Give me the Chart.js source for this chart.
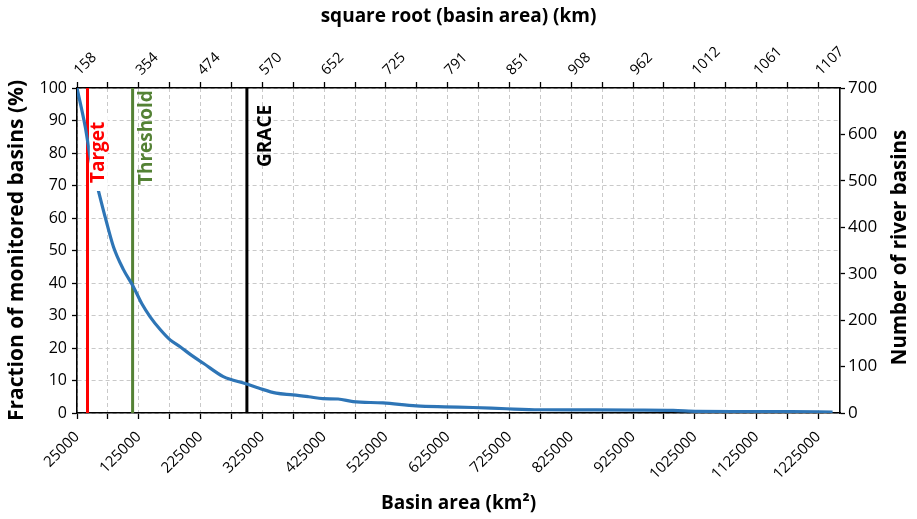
<!DOCTYPE html>
<html>
<head>
<meta charset="utf-8">
<script src="https://cdn.jsdelivr.net/npm/chart.js@4.4.1/dist/chart.umd.min.js"></script>
<style>
html,body{margin:0;padding:0;background:#fff;}
#wrap{width:917px;height:519px;position:relative;}
</style>
</head>
<body>
<div id="wrap"><canvas id="c"></canvas></div>
<script>
// ---- data ----
const basinArea = [25000, 38400, 46500, 59800, 72000, 84100, 100000, 116400, 130000, 143400, 160000, 175700, 191900, 210000, 229500, 261800, 298500, 320000, 347500, 374600, 400000, 423000, 447600, 471900, 520300, 574200, 620000, 666000, 720000, 773500, 850000, 925000, 990000, 1030000, 1100000, 1180000, 1248000];
const fractionMonitored = [100, 88, 78.7, 68.3, 59.3, 51.1, 44.2, 38.8, 33.6, 29.6, 25.6, 22.5, 20.4, 17.8, 15.3, 11.2, 9.0, 7.6, 6.1, 5.6, 5.0, 4.4, 4.3, 3.5, 3.1, 2.2, 1.9, 1.7, 1.3, 1.0, 0.95, 0.9, 0.8, 0.5, 0.45, 0.4, 0.3];

const markerNames = ['Target', 'Threshold', 'GRACE'];
const markerAreas = [42000, 115000, 300000];

const bottomTickLabels = ['25000','125000','225000','325000','425000','525000','625000','725000','825000','925000','1025000','1125000','1225000'];
const topTickLabels = ['158','354','474','570','652','725','791','851','908','962','1012','1061','1107'];
const xTickValues = [25000,75000,125000,175000,225000,275000,325000,375000,425000,475000,525000,575000,625000,675000,725000,775000,825000,875000,925000,975000,1025000,1075000,1125000,1175000,1225000];

const leftTitle = 'Fraction of monitored basins (%)';
const rightTitle = 'Number of river basins';
const bottomTitle = 'Basin area (km\u00B2)';
const topTitle = 'square root (basin area) (km)';

// ---- styles ----
const FONT = "'Open Sans', 'DejaVu Sans', sans-serif";
Chart.defaults.font.family = FONT;
Chart.defaults.color = '#000';

const markerColors = ['#ff0000', '#548235', '#000000'];
const markerLabelStyle = [
  {dx: 11.3, bottomOffset: 95, bg: true},
  {dx: 14, bottomOffset: 97, bg: false},
  {dx: 18.5, bottomOffset: 79, bg: false}
];

const gridColor = '#c9c9c9';

const datasets = [{
  label: 'fraction',
  data: basinArea.map((a, i) => ({x: a, y: fractionMonitored[i]})),
  borderColor: '#2e75b6',
  borderWidth: 3.2,
  pointRadius: 0,
  cubicInterpolationMode: 'monotone',
  fill: false,
  xAxisID: 'x',
  yAxisID: 'y',
  order: 1
}];
markerAreas.forEach((a, i) => {
  datasets.push({
    label: markerNames[i],
    data: [{x: a, y: 0}, {x: a, y: 100}],
    borderColor: markerColors[i],
    borderWidth: 3,
    pointRadius: 0,
    fill: false,
    xAxisID: 'x',
    yAxisID: 'y',
    order: 2
  });
});

const labelPlugin = {
  id: 'markerLabels',
  afterDatasetsDraw(chart) {
    const ctx = chart.ctx;
    const xs = chart.scales.x;
    const top = chart.chartArea.top;
    markerNames.forEach((name, i) => {
      const st = markerLabelStyle[i];
      const px = xs.getPixelForValue(markerAreas[i]) + st.dx;
      const py = top + st.bottomOffset;
      ctx.save();
      ctx.translate(px, py);
      ctx.rotate(-Math.PI / 2);
      ctx.font = "bold 19px " + FONT;
      const w = ctx.measureText(name).width;
      if (st.bg) {
        ctx.fillStyle = '#ffffff';
        ctx.fillRect(-8, -9, w + 16, 18);
      }
      ctx.fillStyle = markerColors[i];
      ctx.textBaseline = 'middle';
      ctx.textAlign = 'left';
      ctx.fillText(name, 0, 0);
      ctx.restore();
    });
    // right axis title, reading bottom-to-top
    const ca = chart.chartArea;
    ctx.save();
    ctx.translate(900, (ca.top + ca.bottom) / 2 - 3);
    ctx.rotate(-Math.PI / 2);
    ctx.font = "bold 20.5px " + FONT;
    ctx.fillStyle = '#000';
    ctx.textAlign = 'center';
    ctx.textBaseline = 'middle';
    ctx.fillText(rightTitle, 0, 0);
    ctx.restore();
  }
};

const xTicksBuild = (scale) => { scale.ticks = xTickValues.map(v => ({value: v})); };

new Chart(document.getElementById('c'), {
  type: 'line',
  data: {datasets},
  plugins: [labelPlugin],
  options: {
    responsive: true,
    maintainAspectRatio: false,
    animation: false,
    layout: {padding: 0},
    plugins: {legend: {display: false}, tooltip: {enabled: false}},
    scales: {
      x: {
        type: 'linear', position: 'bottom', min: 25000, max: 1260000,
        afterBuildTicks: xTicksBuild,
        afterFit: (s) => { s.height = 106; },
        ticks: {
          autoSkip: false, minRotation: 45, maxRotation: 45, padding: 9,
          font: {size: 15},
          callback: (v, i) => (i % 2 === 0 ? bottomTickLabels[i / 2] : '')
        },
        grid: {color: gridColor, lineWidth: 1, tickColor: '#000', tickLength: 6, tickWidth: 1.3, tickBorderDash: []},
        border: {display: true, color: '#000', width: 1.6, dash: [4, 3]},
        title: {display: true, text: bottomTitle, font: {size: 19, weight: 'bold'}, padding: {top: 0, bottom: 4}}
      },
      x2: {
        type: 'linear', position: 'top', min: 25000, max: 1260000,
        afterBuildTicks: xTicksBuild,
        afterFit: (s) => { s.height = 88; },
        ticks: {
          autoSkip: false, minRotation: 45, maxRotation: 45, padding: 3, labelOffset: 12,
          font: {size: 14.5},
          callback: (v, i) => (i % 2 === 0 ? topTickLabels[i / 2] : '')
        },
        grid: {drawOnChartArea: false, tickColor: '#000', tickLength: 6, tickWidth: 1.3},
        border: {display: true, color: '#000', width: 1.6},
        title: {display: true, text: topTitle, font: {size: 19, weight: 'bold'}, padding: {top: 5, bottom: 0}}
      },
      y: {
        type: 'linear', position: 'left', min: 0, max: 100,
        afterFit: (s) => { s.width = 77; },
        ticks: {stepSize: 10, font: {size: 16}, padding: 5},
        grid: {color: gridColor, lineWidth: 1, tickColor: '#000', tickLength: 5, tickWidth: 1.3, tickBorderDash: []},
        border: {display: true, color: '#000', width: 1.6, dash: [4, 3]},
        title: {display: true, text: leftTitle, font: {size: 21, weight: 'bold'}, padding: {top: 4, bottom: 0}}
      },
      y2: {
        type: 'linear', position: 'right', min: 0, max: 700, display: true,
        afterFit: (s) => { s.width = 77; },
        ticks: {stepSize: 100, font: {size: 17}, padding: 3},
        grid: {drawOnChartArea: false, tickColor: '#000', tickLength: 5, tickWidth: 1.3},
        border: {display: true, color: '#000', width: 1.6}
      }
    }
  }
});
</script>
</body>
</html>
